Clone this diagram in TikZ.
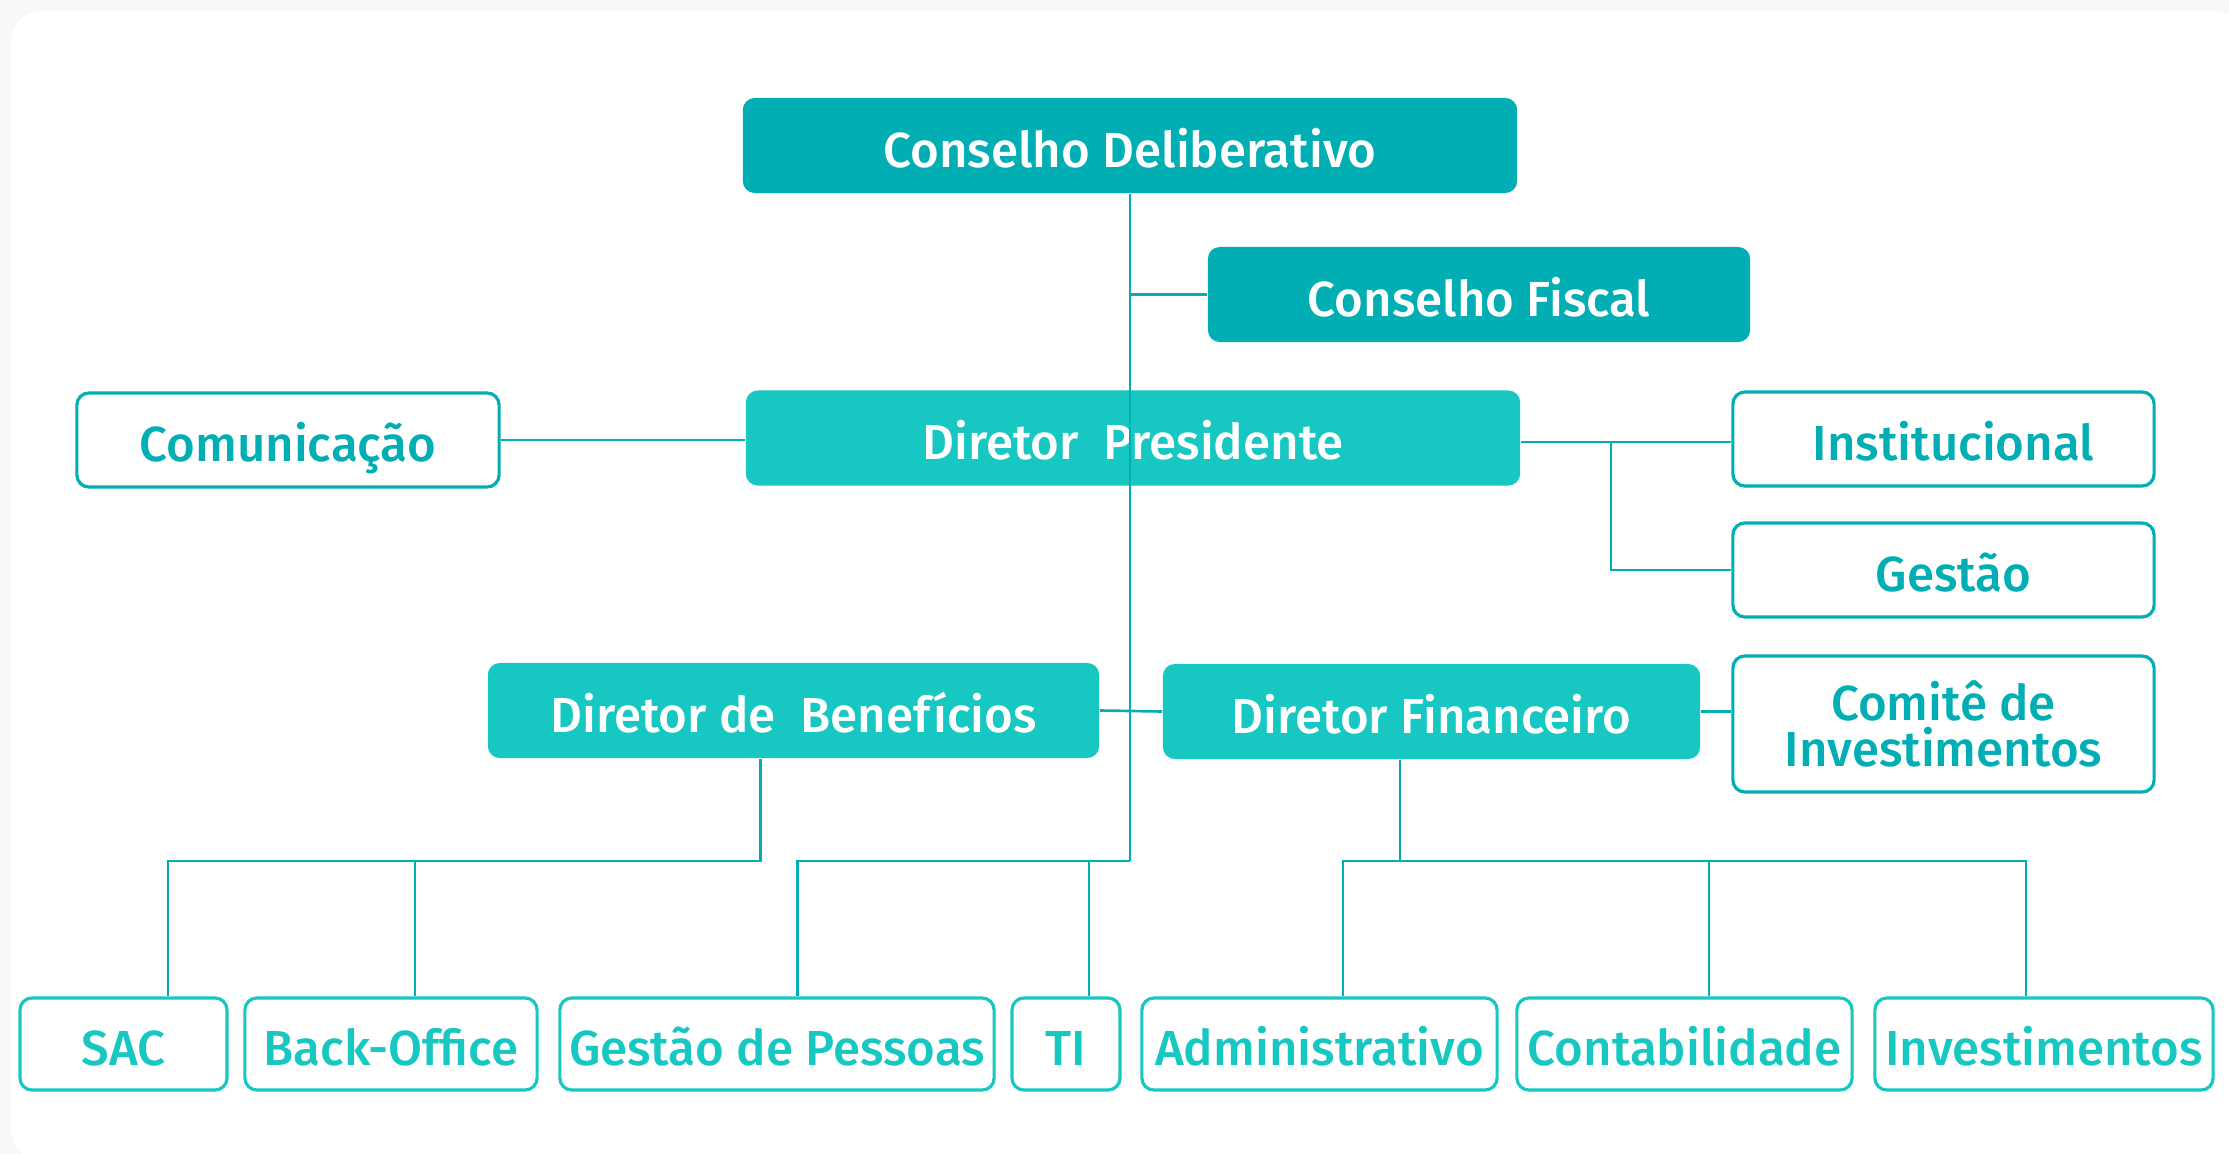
\documentclass[tikz,border=0pt]{standalone}
\usepackage{fontspec}
\setmainfont{Fira Sans}[UprightFont=* Medium]
\definecolor{tealdark}{HTML}{00AEB3}
\definecolor{teallight}{HTML}{17C7C1}
\definecolor{pagegray}{HTML}{F8F8F8}
\begin{document}
\begin{tikzpicture}[x=0.01cm,y=-0.01cm,
council/.style ={rectangle, fill=tealdark, text=white,
  rounded corners=0.12cm, text centered, inner sep=0pt,
  text height=13.6pt, text depth=1.2pt,
  minimum height=0.95cm, font=\fontsize{14}{17}\selectfont
},
director/.style ={council, fill=teallight},
staff/.style ={rectangle, draw=tealdark, line width=0.9pt, fill=white,
  text=tealdark, rounded corners=0.12cm, align=center, inner sep=0pt,
  text height=13.6pt, text depth=1.2pt,
  minimum height=0.94cm, minimum width=4.21cm,
  font=\fontsize{14}{14}\selectfont
},
unit/.style ={staff, draw=teallight, text=teallight,
  minimum height=0.92cm
},
link/.style ={draw=tealdark, line width=0.75pt}]
% page
\useasboundingbox (0,0) rectangle (2229,1154);
\clip (0,0) rectangle (2229,1154);
\fill[pagegray] (0,0) rectangle (2229,1154);
\fill[white, rounded corners=0.3cm] (11,11) rectangle (2245,1160);
% board and directors
\node (cd) at (1130,145.5) [council, minimum width=7.74cm] {Conselho Deliberativo};
\node (cf) at (1479,294.5) [council, minimum width=5.42cm] {Conselho Fiscal};
\node (dp) at (1133,438) [director, minimum width=7.74cm] {Diretor~~Presidente};
\node (db) at (793.5,710.5) [director, minimum width=6.11cm] {Diretor de~~Benefícios};
\node (df) at (1431.5,711.5) [director, minimum width=5.37cm] {Diretor Financeiro};
% staff
\node (com) at (288,440) [staff, minimum width=4.22cm] {Comunicação};
\node (inst) at (1943.5,439) [staff] {\hspace*{0.2cm}Institucional};
\node (ges) at (1943.5,570) [staff] {\hspace*{0.2cm}Gestão};
\node (comi) at (1943.5,724) [staff, minimum height=1.36cm, text height=, text depth=]
  {Comitê de\\[-1pt]Investimentos};
% units
\node (sac) at (123.5,1044) [unit, minimum width=2.07cm] {SAC};
\node (bo) at (391,1044) [unit, minimum width=2.92cm] {Back-Office};
\node (gp) at (777,1044) [unit, minimum width=4.34cm] {Gestão de Pessoas};
\node (ti) at (1066,1044) [unit, minimum width=1.08cm] {TI};
\node (adm) at (1319.5,1044) [unit, minimum width=3.55cm] {Administrativo};
\node (cont) at (1684.5,1044) [unit, minimum width=3.35cm] {Contabilidade};
\node (inv) at (2044,1044) [unit, minimum width=3.38cm] {Investimentos};
% bus points
\coordinate (spine) at (1130,861);
\coordinate (split) at (1611,442);
\coordinate (dbbus) at (760.5,861);
\coordinate (dfbus) at (1400,861);
% connectors
\draw[link] (cd.south) -- (spine);
\draw[link] (cf.west) -- (cf.west -| cd.south);
\draw[link] (com.east) -- (com.east -| dp.west);
\draw[link] (dp.east |- split) -- (split -| inst.west);
\draw[link] (split) |- (ges.west);
\draw[link] (db.east) -- (df.west);
\draw[link] (df.east) -- (df.east -| comi.west);
\draw[link] (db.south -| dbbus) -- (dbbus) -| ([xshift=0.445cm]sac.north);
\draw[link] ([xshift=0.24cm]bo.north) -- ([xshift=0.24cm]bo.north |- dbbus);
\draw[link] (spine) -| ([xshift=0.205cm]gp.north);
\draw[link] ([xshift=0.23cm]ti.north) -- ([xshift=0.23cm]ti.north |- spine);
\draw[link] (df.south -| dfbus) -- (dfbus);
\draw[link] ([xshift=0.235cm]adm.north) |- (dfbus) -| ([xshift=-0.18cm]inv.north);
\draw[link] ([xshift=0.245cm]cont.north) -- ([xshift=0.245cm]cont.north |- dfbus);
\end{tikzpicture}
\end{document}
